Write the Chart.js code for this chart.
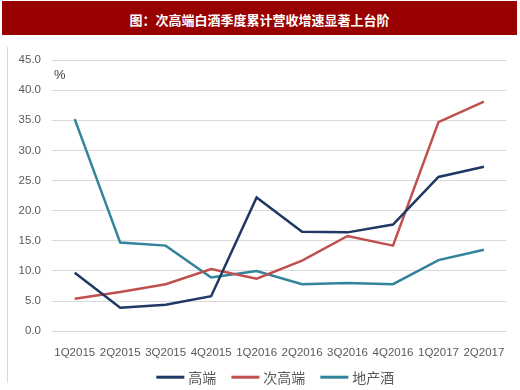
<!DOCTYPE html>
<html lang="zh">
<head>
  <meta charset="UTF-8">
  <title>次高端白酒季度累计营收增速</title>
  <script src="https://cdn.jsdelivr.net/npm/chart.js"></script>
  <style>
    body {
      margin: 0;
      background: #fff;
      width: 520px;
      height: 390px;
      position: relative;
      overflow: hidden;
    }
    #title {
      position: absolute;
      left: 2px;
      top: 1px;
      width: 515px;
      height: 34px;
      background: #990000;
      color: #fff;
      font: bold 13px "Noto Sans CJK SC", sans-serif;
      line-height: 38px;
      text-align: center;
    }
    #frame {
      position: absolute;
      left: 7px;
      top: 47px;
      width: 1px;
      height: 336px;
      background: #d9d9d9;
    }
    #box {
      position: absolute;
      left: 0;
      top: 38px;
      width: 520px;
      height: 352px;
    }
  </style>
</head>
<body>
  <div id="title">图：次高端白酒季度累计营收增速显著上台阶</div>
  <div id="frame"></div>
  <div id="box"><canvas id="chart"></canvas></div>

  <script>
    const quarters = ['1Q2015', '2Q2015', '3Q2015', '4Q2015', '1Q2016', '2Q2016', '3Q2016', '4Q2016', '1Q2017', '2Q2017'];
    const highEnd = [9.7, 3.9, 4.4, 5.8, 22.2, 16.5, 16.4, 17.7, 25.6, 27.3];
    const subHighEnd = [5.4, 6.5, 7.8, 10.3, 8.7, 11.7, 15.8, 14.2, 34.7, 38.1];
    const localLiquor = [35.2, 14.7, 14.2, 8.9, 10.0, 7.8, 8.0, 7.8, 11.8, 13.5];

    // 左上角的 % 单位 + 底部图例（自己画，位置好控制）
    const extras = {
      id: 'extras',
      afterDraw(chart) {
        const { ctx, chartArea } = chart;
        ctx.save();
        ctx.font = '13px "Liberation Sans"';
        ctx.fillStyle = '#404040';
        ctx.textBaseline = 'middle';
        ctx.fillText('%', chartArea.left + 2, chartArea.top + 15);

        ctx.font = '14px "Noto Sans CJK SC"';
        const sets = chart.data.datasets;
        const lineW = 28, gap = 4, space = 15;
        let total = 0;
        sets.forEach((ds, i) => {
          total += lineW + gap + ctx.measureText(ds.label).width + (i ? space : 0);
        });
        let x = (chartArea.left + chartArea.right) / 2 - total / 2 - 4;
        const y = chartArea.bottom + 46;
        sets.forEach(ds => {
          ctx.strokeStyle = ds.borderColor;
          ctx.lineWidth = 3;
          ctx.beginPath();
          ctx.moveTo(x, y);
          ctx.lineTo(x + lineW, y);
          ctx.stroke();
          x += lineW + gap;
          ctx.fillStyle = '#595959';
          ctx.fillText(ds.label, x, y);
          x += ctx.measureText(ds.label).width + space;
        });
        ctx.restore();
      }
    };

    const line = (label, data, color) => ({
      label: label,
      data: data,
      borderColor: color,
      backgroundColor: color,
      borderWidth: 2.5,
      pointRadius: 0,
      tension: 0
    });

    new Chart(document.getElementById('chart'), {
      type: 'line',
      data: {
        labels: quarters,
        datasets: [
          line('高端', highEnd, '#1f3864'),
          line('次高端', subHighEnd, '#c0504d'),
          line('地产酒', localLiquor, '#31849b')
        ]
      },
      options: {
        responsive: true,
        maintainAspectRatio: false,
        animation: false,
        layout: { padding: { top: 22, right: 12, left: 0, bottom: 15 } },
        plugins: {
          legend: { display: false },
          tooltip: { enabled: false }
        },
        scales: {
          x: {
            offset: true,
            grid: { display: false, drawTicks: false },
            border: { display: false },
            ticks: {
              color: '#595959',
              padding: 15,
              maxRotation: 0,
              autoSkip: false,
              font: { family: '"Liberation Sans"', size: 11.5 }
            }
          },
          y: {
            min: 0,
            max: 45,
            afterFit(scale) { scale.width = 52; },
            grid: { color: '#d9d9d9', drawTicks: false },
            border: { display: false },
            ticks: {
              stepSize: 5,
              padding: 11,
              color: '#595959',
              font: { family: '"Liberation Sans"', size: 11.5 },
              callback: v => v.toFixed(1)
            }
          }
        }
      },
      plugins: [extras]
    });
  </script>
</body>
</html>
